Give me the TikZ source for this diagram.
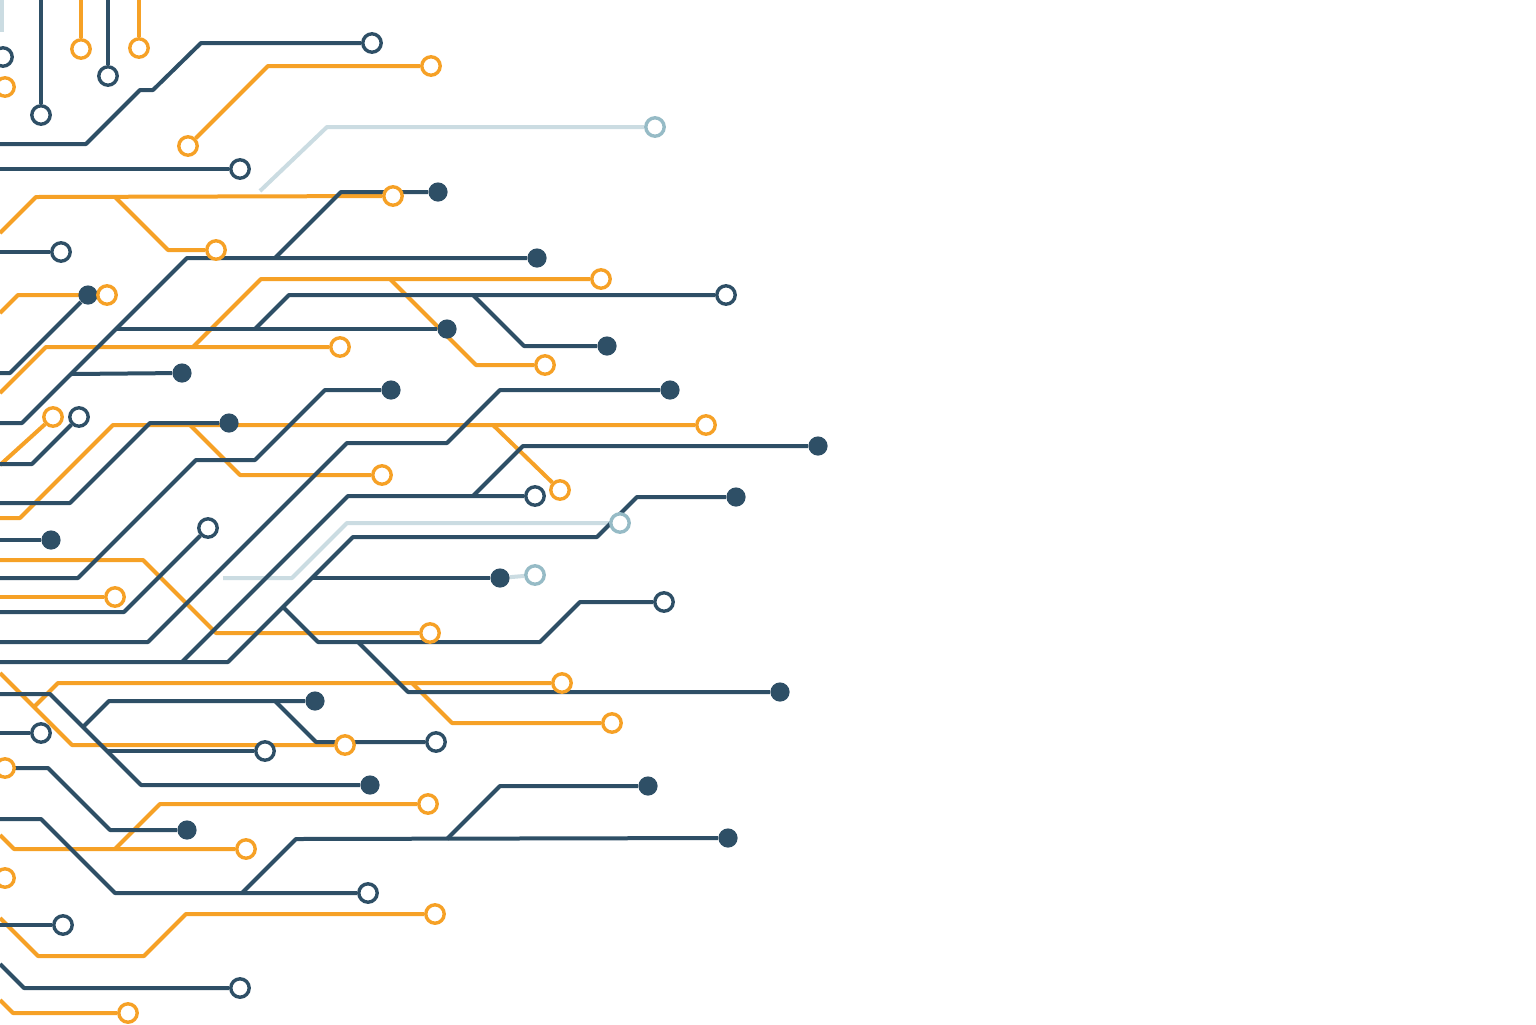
\documentclass[tikz,border=0pt]{standalone}
\definecolor{trace}{RGB}{46,79,102}
\definecolor{amber}{RGB}{246,161,38}
\definecolor{haze}{RGB}{203,220,226}
\definecolor{hazering}{RGB}{150,187,198}
\pgfdeclarelayer{background}
\pgfsetlayers{background,main}

\begin{document}
\begin{tikzpicture}[x=0.5pt,y=-0.5pt,
  wire/.style={line width=2pt,line join=round},
  nv/.style={wire,draw=trace},
  og/.style={wire,draw=amber},
  lt/.style={wire,draw=haze},
  padn/.style={circle,draw=trace,fill=white,line width=1.7pt,minimum size=9.2pt,inner sep=0pt},
  pado/.style={padn,draw=amber},
  padl/.style={padn,draw=hazering},
  via/.style={circle,fill=trace,minimum size=9.6pt,inner sep=0pt}]
\useasboundingbox (0,0) rectangle (1536,1024);

% pads
\foreach \n/\x/\y/\k in {1/3/57/padn, 2/5/87/pado, 3/41/115/padn, 4/81/49/pado,
  5/108/76/padn, 6/139/48/pado, 7/372/43/padn, 8/431/66/pado, 9/188/146/pado,
  10/240/169/padn, 11/655/127/padl, 12/393/196/pado, 13/438/192/via,
  14/216/250/pado, 15/61/252/padn, 16/537/258/via, 17/601/279/pado,
  18/88/295/via, 19/107/295/pado, 20/726/295/padn, 21/447/329/via,
  22/607/346/via, 23/340/347/pado, 24/545/365/pado, 25/182/373/via,
  26/391/390/via, 27/670/390/via, 28/53/417/pado, 29/79/417/padn,
  30/229/423/via, 31/706/425/pado, 32/818/446/via, 33/382/475/pado,
  34/560/490/pado, 35/535/496/padn, 36/736/497/via, 37/208/528/padn,
  38/620/523/padl, 39/51/540/via, 40/500/578/via, 41/535/575/padl,
  42/115/597/pado, 43/664/602/padn, 44/430/633/pado, 45/562/683/pado,
  46/780/692/via, 47/315/701/via, 48/612/723/pado, 49/41/733/padn,
  50/436/742/padn, 51/265/751/padn, 52/345/745/pado, 53/5/768/pado,
  54/370/785/via, 55/648/786/via, 56/428/804/pado, 57/187/830/via,
  58/728/838/via, 59/246/849/pado, 60/5/878/pado, 61/368/893/padn,
  62/63/925/padn, 63/435/914/pado, 64/240/988/padn, 65/128/1013/pado}
  \node[\k] (t\n) at (\x,\y) {};

\begin{pgfonlayer}{background}
\fill[white] (0,0) rectangle (1536,1024);
% light traces
\draw[lt] (2,0) -- (2,32);
\draw[lt] (260,191) -- (327,127) -- (t11);
\draw[lt] (223,578) -- (292,578) -- (347,523) -- (t38);
\draw[lt] (t40) -- (t41);
% amber traces
\draw[og] (81,0) -- (t4);
\draw[og] (139,0) -- (t6);
\draw[og] (t9) -- (268,66) -- (t8);
\draw[og] (0,233) -- (36,197) -- (t12);
\draw[og] (115,197) -- (168,250) -- (t14);
\draw[og] (0,313) -- (18,295) -- (t19);
\draw[og] (193,347) -- (261,279) -- (t17);
\draw[og] (390,279) -- (476,365) -- (t24);
\draw[og] (0,393) -- (46,347) -- (t23);
\draw[og] (0,465) -- (t28);
\draw[og] (0,518) -- (20,518) -- (113,425) -- (t31);
\draw[og] (190,425) -- (240,475) -- (t33);
\draw[og] (493,425) -- (t34);
\draw[og] (0,560) -- (143,560) -- (216,633) -- (t44);
\draw[og] (0,597) -- (t42);
\draw[og] (0,673) -- (72,745) -- (t52);
\draw[og] (34,707) -- (58,683) -- (t45);
\draw[og] (412,683) -- (452,723) -- (t48);
\draw[og] (0,835) -- (14,849) -- (t59);
\draw[og] (115,849) -- (160,804) -- (t56);
\draw[og] (0,918) -- (38,956) -- (144,956) -- (186,914) -- (t63);
\draw[og] (0,1000) -- (13,1013) -- (t65);
% dark traces
\draw[nv] (41,0) -- (t3);
\draw[nv] (108,0) -- (t5);
\draw[nv] (0,144) -- (86,144) -- (140,90) -- (153,90) -- (201,43) -- (t7);
\draw[nv] (0,169) -- (t10);
\draw[nv] (275,258) -- (341,192) -- (t13);
\draw[nv] (0,252) -- (t15);
\draw[nv] (0,423) -- (22,423) -- (187,258) -- (t16);
\draw[nv] (0,373) -- (10,373) -- (t18);
\draw[nv] (116,329) -- (t21);
\draw[nv] (255,329) -- (289,295) -- (t20);
\draw[nv] (473,295) -- (524,346) -- (t22);
\draw[nv] (71,374) -- (t25);
\draw[nv] (0,464) -- (32,464) -- (t29);
\draw[nv] (0,503) -- (70,503) -- (150,423) -- (t30);
\draw[nv] (0,578) -- (78,578) -- (196,460) -- (255,460) -- (325,390) -- (t26);
\draw[nv] (0,642) -- (148,642) -- (347,443) -- (447,443) -- (500,390) -- (t27);
\draw[nv] (182,662) -- (348,496) -- (t35);
\draw[nv] (473,496) -- (523,446) -- (t32);
\draw[nv] (0,662) -- (228,662) -- (353,537) -- (597,537) -- (637,497) -- (t36);
\draw[nv] (312,578) -- (t40);
\draw[nv] (283,607) -- (318,642) -- (540,642) -- (580,602) -- (t43);
\draw[nv] (358,642) -- (408,692) -- (t46);
\draw[nv] (0,612) -- (124,612) -- (t37);
\draw[nv] (0,540) -- (t39);
\draw[nv] (0,694) -- (50,694) -- (141,785) -- (t54);
\draw[nv] (83,727) -- (109,701) -- (t47);
\draw[nv] (275,701) -- (316,742) -- (t50);
\draw[nv] (107,751) -- (t51);
\draw[nv] (0,733) -- (t49);
\draw[nv] (0,768) -- (48,768) -- (110,830) -- (t57);
\draw[nv] (0,819) -- (41,819) -- (115,893) -- (t61);
\draw[nv] (242,893) -- (296,839) -- (t58);
\draw[nv] (447,839) -- (500,786) -- (t55);
\draw[nv] (0,925) -- (t62);
\draw[nv] (0,964) -- (24,988) -- (t64);
\end{pgfonlayer}
\end{tikzpicture}
\end{document}
